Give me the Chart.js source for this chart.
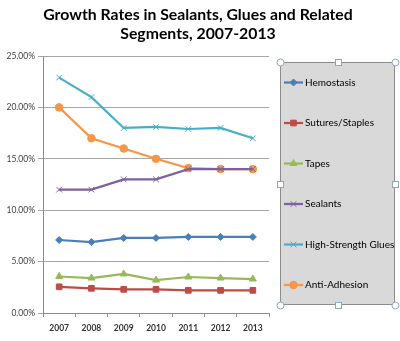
<!DOCTYPE html>
<html>
<head>
<meta charset="utf-8">
<script src="https://cdn.jsdelivr.net/npm/chart.js@4/dist/chart.umd.min.js"></script>
<style>
  html, body { margin: 0; padding: 0; background: #ffffff; }
  #wrap { width: 400px; height: 341px; position: relative; }
</style>
</head>
<body>
<div id="wrap"><canvas id="c" width="400" height="341"></canvas></div>
<script>
// Years on the category axis
const years = ['2007', '2008', '2009', '2010', '2011', '2012', '2013'];

// Annual growth rate (%) per segment
const hemostasis      = [7.1, 6.9, 7.3, 7.3, 7.4, 7.4, 7.4];
const suturesStaples  = [2.55, 2.4, 2.3, 2.3, 2.2, 2.2, 2.2];
const tapes           = [3.55, 3.4, 3.8, 3.2, 3.5, 3.4, 3.3];
const sealants        = [12.0, 12.0, 13.0, 13.0, 14.0, 14.0, 14.0];
const highStrength    = [22.9, 21.0, 18.0, 18.1, 17.9, 18.0, 17.0];
const antiAdhesion    = [20.0, 17.0, 16.0, 15.0, 14.1, 14.0, 14.0];

// Y axis tick values (%)
const yTicks = [0, 5, 10, 15, 20, 25];

const titleLines = ['Growth Rates in Sealants, Glues and Related', 'Segments, 2007-2013'];

const FONT = 'Lato, "Open Sans", "DejaVu Sans", sans-serif';

function series(label, data, color, style, radius) {
  return {
    label, data,
    borderColor: color,
    backgroundColor: color,
    borderWidth: 2.2,
    pointStyle: style,
    pointRadius: radius,
    pointHoverRadius: radius,
    pointBorderColor: color,
    pointBackgroundColor: color,
    pointBorderWidth: 1,
    tension: 0
  };
}

const datasets = [
  series('Hemostasis', hemostasis, '#4a7ebb', 'rectRot', 3.5),
  series('Sutures/Staples', suturesStaples, '#be4b48', 'rect', 4),
  series('Tapes', tapes, '#98b954', 'triangle', 4),
  series('Sealants', sealants, '#7d60a0', 'crossRot', 4),
  series('High-Strength Glues', highStrength, '#4bacc6', 'crossRot', 4),
  series('Anti-Adhesion', antiAdhesion, '#f79646', 'circle', 3.8)
];

// Title, framed legend panel and its selection handles
const decorations = {
  id: 'decorations',
  afterDraw(chart) {
    const ctx = chart.ctx;
    ctx.save();
    // title
    ctx.fillStyle = '#000000';
    ctx.font = 'bold 15.8px ' + FONT;
    ctx.textAlign = 'center';
    ctx.textBaseline = 'middle';
    ctx.fillText(titleLines[0], 198, 15);
    ctx.fillText(titleLines[1], 198, 34);

    // legend panel
    const L = 280, T = 62, R = 395, B = 305;
    ctx.fillStyle = '#d9d9d9';
    ctx.fillRect(L, T, R - L, B - T);
    ctx.strokeStyle = '#8c8c8c';
    ctx.lineWidth = 1;
    ctx.strokeRect(L + 0.5, T + 0.5, R - L - 1, B - T - 1);

    // legend entries
    ctx.textAlign = 'left';
    ctx.font = '10px ' + FONT;
    chart.data.datasets.forEach((ds, i) => {
      const y = 82.5 + i * 40.5;
      ctx.strokeStyle = ds.borderColor;
      ctx.lineWidth = 2.2;
      ctx.beginPath();
      ctx.moveTo(284, y);
      ctx.lineTo(303, y);
      ctx.stroke();
      ctx.fillStyle = ds.borderColor;
      ctx.strokeStyle = ds.borderColor;
      ctx.lineWidth = 1;
      Chart.helpers.drawPoint(ctx, {
        pointStyle: ds.pointStyle,
        radius: ds.pointRadius,
        rotation: 0,
        borderWidth: 1
      }, 293.5, y);
      ctx.fillStyle = '#000000';
      ctx.fillText(ds.label, 305, y);
    });

    // selection handles
    ctx.fillStyle = '#ffffff';
    ctx.strokeStyle = '#8ea4bf';
    ctx.lineWidth = 1;
    const corners = [[L, T], [R, T], [L, B], [R, B]];
    corners.forEach(([x, y]) => {
      ctx.beginPath();
      ctx.arc(x + 0.5, y + 0.5, 3.5, 0, Math.PI * 2);
      ctx.fill();
      ctx.stroke();
    });
    const mids = [[(L + R) / 2, T], [(L + R) / 2, B], [L, (T + B) / 2], [R, (T + B) / 2]];
    mids.forEach(([x, y]) => {
      ctx.fillRect(Math.round(x) - 3, Math.round(y) - 3, 6, 6);
      ctx.strokeRect(Math.round(x) - 2.5, Math.round(y) - 2.5, 6, 6);
    });
    ctx.restore();
  }
};

new Chart(document.getElementById('c'), {
  type: 'line',
  data: { labels: years, datasets },
  options: {
    responsive: false,
    animation: false,
    devicePixelRatio: 1,
    layout: { padding: { top: 56, right: 131, left: 0, bottom: 0 } },
    plugins: {
      legend: { display: false },
      title: { display: false },
      tooltip: { enabled: false }
    },
    scales: {
      x: {
        offset: true,
        afterFit(scale) { scale.height = 28; },
        grid: {
          offset: true,
          drawOnChartArea: false,
          drawTicks: true,
          tickLength: 4,
          color: '#8c8c8c'
        },
        border: { display: true, color: '#8c8c8c', width: 1 },
        ticks: {
          color: '#333333',
          font: { family: FONT, size: 8.5, weight: 'bold' },
          padding: 6,
          maxRotation: 0
        }
      },
      y: {
        min: 0,
        max: 25,
        afterFit(scale) { scale.width = 43; },
        afterBuildTicks(scale) { scale.ticks = yTicks.map(v => ({ value: v })); },
        grid: {
          color: '#a6a6a6',
          tickLength: 5,
          lineWidth: 1
        },
        border: { display: true, color: '#8c8c8c', width: 1 },
        ticks: {
          color: '#404040',
          font: { family: FONT, size: 8.5 },
          padding: 3,
          callback: v => v.toFixed(2) + '%'
        }
      }
    }
  },
  plugins: [decorations]
});
</script>
</body>
</html>
